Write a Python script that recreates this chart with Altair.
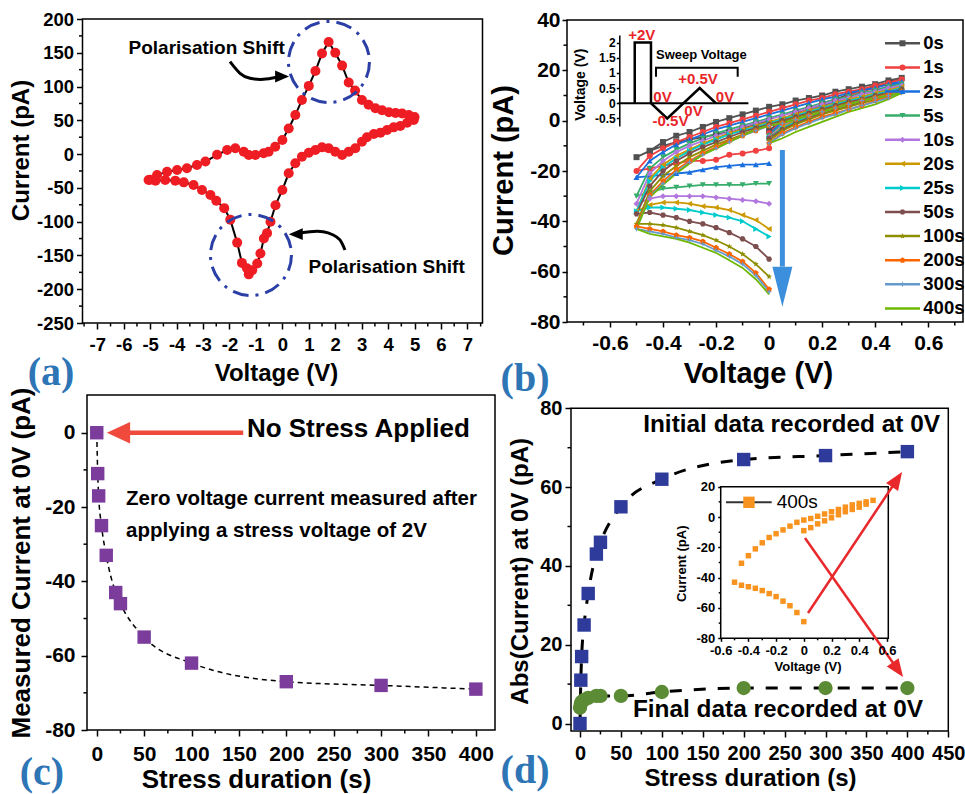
import math
import altair as alt
import pandas as pd

W, H = 965, 794
SANS = "Liberation Sans"
SERIF = "Liberation Serif"
BLACK = "black"

# ---------------------------------------------------------------------------
# (a) cyclic I-V loop: forward sweep -5 V -> +5 V, reverse sweep +5 V -> -5 V
# ---------------------------------------------------------------------------
loop_fwd_v = [-5.0, -4.74, -4.36, -3.98, -3.61, -3.23, -2.91, -2.47, -2.09, -1.78,
              -1.46, -1.27, -1.02, -0.71, -0.52, -0.27, 0.0, 0.24, 0.49, 0.74,
              1.0, 1.25, 1.5, 1.75, 2.0, 2.26, 2.51, 2.75, 3.01, 3.26,
              3.52, 3.77, 4.03, 4.28, 4.53, 4.78, 5.0]
loop_fwd_i = [-38, -31, -26, -23.5, -21, -16, -11, -1, 6, 8.6,
              3.6, -1.3, -1.3, 1.2, 3.6, 11, 21, 38, 58, 80,
              101, 123, 149, 166, 150, 131, 106, 94, 80, 73,
              68, 65, 62, 61, 60, 58, 55]
loop_rev_v = [4.97, 4.72, 4.46, 4.21, 3.96, 3.71, 3.46, 3.2, 3.01, 2.76,
              2.51, 2.26, 2.0, 1.75, 1.5, 1.25, 1.0, 0.74, 0.49, 0.24,
              0.0, -0.26, -0.45, -0.58, -0.7, -0.83, -0.95, -1.14, -1.27, -1.34,
              -1.53, -1.71, -1.97, -2.2, -2.5, -2.72, -3.04, -3.36, -3.73, -4.05,
              -4.43, -4.8, -5.06]
loop_rev_i = [50.5, 46.5, 41.6, 39.6, 35.7, 31.8, 29.8, 25, 18.4, 8.6,
              3.6, -1.3, 3.6, 8.6, 10, 6, 2, -4, -13.6, -28.4,
              -53, -75.6, -100, -117, -125, -147, -162, -172, -178, -169,
              -161, -131, -97, -80, -69, -60.5, -53, -45.7, -41.8, -39.3,
              -38.3, -39.3, -38.3]

# ---------------------------------------------------------------------------
# (b) sweeps 0 -> -0.5 -> 0 -> +0.5 -> 0 V after each stress duration
# ---------------------------------------------------------------------------
durations = ["0s", "1s", "2s", "5s", "10s", "20s", "25s", "50s", "100s", "200s", "300s", "400s"]
series_colors = ["#515151", "#F14040", "#1A6FDF", "#37AD6B", "#B177DE", "#CC9900",
                 "#00CBCC", "#7D4E4E", "#8E8E00", "#FB6501", "#6699CC", "#6FB802"]

v_neg = [0.0, -0.05, -0.1, -0.15, -0.2, -0.25, -0.3, -0.35, -0.4, -0.45, -0.5]
v_ret = [-0.45, -0.4, -0.35, -0.3, -0.25, -0.2, -0.15, -0.1, -0.05, 0.0]
v_pos = [0.05, 0.1, 0.15, 0.2, 0.25, 0.3, 0.35, 0.4, 0.45, 0.5]
v_back = [0.45, 0.4, 0.35, 0.3, 0.25, 0.2, 0.15, 0.1, 0.05, 0.0]

i_neg = {
    "0s": [0, -1.5, -3, -4.5, -5.5, -6.5, -7.5, -8.5, -10, -12, -14.5],
    "1s": [-11, -12, -13, -13.5, -15.5, -16, -16, -17, -18, -19, -20],
    "2s": [-17, -17.5, -17.5, -18, -18.5, -19.5, -20.5, -21, -21.5, -22, -22.5],
    "5s": [-25, -25, -25.5, -25.5, -25.5, -25.5, -26, -26.5, -27, -28.5, -30],
    "10s": [-33, -32, -31.5, -31, -30.5, -30, -30, -30, -30, -31, -33],
    "20s": [-43, -39.5, -37.5, -35.5, -34.5, -34, -33, -32.5, -32.5, -33.5, -36],
    "25s": [-46, -43, -40, -38.5, -37.5, -36.5, -35.5, -35, -34.5, -34.5, -36],
    "50s": [-55, -50, -47, -44.5, -42.5, -41, -40, -38.5, -37.5, -36.5, -37],
    "100s": [-62, -57, -53, -50, -47.5, -45.5, -44, -42.5, -41.5, -41, -41],
    "200s": [-67, -60.5, -56, -53, -50.5, -48, -46.5, -45.5, -44, -43, -42],
    "300s": [-68, -61.5, -57, -54, -51.5, -49, -47.5, -46.5, -45, -44, -43],
    "400s": [-69, -63, -58.5, -55.5, -52.5, -50.5, -48.5, -47, -46, -45, -43],
}
i_ret = {
    "0s": [-12, -8.5, -6, -4.5, -2.5, -0.5, 1, 2.5, 4, 5.5],
    "1s": [-14, -11, -8.5, -6.5, -4.5, -2.5, -1, 0.5, 2, 3.5],
    "2s": [-16, -12.5, -9.5, -7.5, -5.5, -3.5, -2, -0.5, 1, 2.5],
    "5s": [-19, -14.5, -11.5, -9, -7, -5, -3.5, -2, -0.5, 1],
    "10s": [-21, -16, -12.5, -10, -8, -6, -4.5, -2.5, -1, 0.5],
    "20s": [-23, -17.5, -14, -11.5, -9, -7, -5, -3.5, -2, -0.5],
    "25s": [-24, -18.5, -15, -12, -9.5, -7.5, -5.5, -4, -2.5, -1],
    "50s": [-26, -20, -16, -13, -10.5, -8.5, -6.5, -4.5, -3, -1.5],
    "100s": [-28, -22, -18, -14.5, -12, -9.5, -7.5, -5.5, -3.5, -2],
    "200s": [-29.5, -24, -19.5, -16, -13, -10.5, -8, -6, -4, -2],
    "300s": [-30, -25, -20.5, -16.5, -13.5, -11, -8.5, -6, -4, -2],
    "400s": [-30.5, -25.5, -21, -17, -13.5, -11, -8.5, -6, -3.5, -2],
}
i_pos = {
    "0s": [6.5, 8, 9, 10, 11.5, 12.5, 13.5, 14.5, 16, 17],
    "1s": [5, 6.5, 8, 9, 10.5, 11.5, 12.5, 14, 15, 16.5],
    "2s": [4, 5.5, 7, 8.5, 9.5, 11, 12, 13, 14.5, 15.5],
    "5s": [2.5, 4, 5.5, 7, 8.5, 9.5, 11, 12, 13.5, 14.5],
    "10s": [2, 3.5, 5, 6.5, 8, 9, 10.5, 11.5, 13, 14],
    "20s": [1, 2.5, 4, 5.5, 7, 8.5, 9.5, 11, 12, 13.5],
    "25s": [0.5, 2, 3.5, 5, 6.5, 8, 9, 10.5, 11.5, 13],
    "50s": [0, 1.5, 3, 4.5, 6, 7.5, 8.5, 10, 11, 12.5],
    "100s": [-0.5, 1, 2.5, 4, 5.5, 7, 8, 9.5, 10.5, 12],
    "200s": [-1, 0.5, 2, 3.5, 5, 6.5, 8, 9, 10.5, 11.5],
    "300s": [-1, 0.5, 2, 3.5, 5, 6.5, 8, 9, 10, 11],
    "400s": [-1, 0.5, 2, 3.5, 5, 6.5, 8, 9, 10, 11],
}
i_back = {
    "0s": [15, 13.5, 12, 10.5, 8.5, 7, 5, 3, 0.5, -4],
    "1s": [14.5, 13, 11.5, 10, 8, 6.5, 4.5, 2.5, 0, -5],
    "2s": [13.5, 12, 10.5, 9, 7.5, 6, 4, 2, -0.5, -5.5],
    "5s": [12.5, 11, 9.5, 8, 6.5, 5, 3, 1, -1.5, -6],
    "10s": [12, 10.5, 9, 7.5, 6, 4.5, 2.5, 0.5, -2, -6.5],
    "20s": [11.5, 10, 8.5, 7, 5.5, 4, 2, 0, -2.5, -7],
    "25s": [11, 9.5, 8, 6.5, 5, 3.5, 1.5, -0.5, -3, -7],
    "50s": [10.5, 9, 7.5, 6, 4.5, 3, 1, -1, -3.5, -7],
    "100s": [10, 8.5, 7, 5.5, 4, 2.5, 0.5, -1.5, -4, -8],
    "200s": [9.5, 8, 6, 4.5, 3, 1.5, -0.5, -2.5, -5, -9],
    "300s": [9, 7.5, 6, 4.5, 2.5, 1, -1, -3, -5.5, -9],
    "400s": [8.5, 6.5, 5, 3.5, 1.5, -0.5, -2.5, -4.5, -7, -9],
}

# stress pulse followed by the read sweep (inset of b)
pulse_t = [1, 1, 2, 2, 3, 4, 5, 6]
pulse_v = [0, 2, 2, 0, -0.5, 0, 0.5, 0]

# ---------------------------------------------------------------------------
# (c), (d) zero-bias current versus stress duration
# ---------------------------------------------------------------------------
stress_s = [0, 1, 2, 5, 10, 20, 25, 50, 100, 200, 300, 400]
i_zero_bias = [0, -11, -17, -25, -33, -43, -46, -55, -62, -67, -68, -69]
abs_initial = [0, 11, 17, 25, 33, 43, 46, 55, 62, 67, 68, 69]
abs_final = [4, 5, 5.5, 6, 6.5, 7, 7, 7, 8, 9, 9, 9]

MINUS_FIX = "replace(datum.label, '\u2212', '-')"


# ---------------------------------------------------------------------------
# helpers
# ---------------------------------------------------------------------------
def lin(domain, rng):
    return alt.Scale(domain=domain, range=rng, nice=False, zero=False)


def axis(orient, offset, values, lsize, tsize, title, tx, ty, tick=6, pad=3,
         fmt="d", domain=False):
    return alt.Axis(
        orient=orient, offset=offset, values=values, format=fmt, labelExpr=MINUS_FIX,
        labelFont=SANS, labelFontSize=lsize, labelFontWeight="bold", labelColor=BLACK,
        labelPadding=pad, labelOverlap=False, labelFlush=False,
        title=title, titleFont=SANS, titleFontSize=tsize, titleFontWeight="bold",
        titleColor=BLACK, titleX=tx, titleY=ty, titleBaseline="middle",
        tickSize=tick, tickWidth=1.5, tickColor=BLACK,
        domain=domain, domainColor=BLACK, domainWidth=1.5, grid=False, zindex=1)


def frame(x0, x1, y0, y1):
    return alt.Chart(pd.DataFrame({"f": [0]})).mark_rect(
        fill="white", fillOpacity=0, stroke=BLACK, strokeWidth=1.5
    ).encode(x=alt.value(x0), x2=alt.value(x1), y=alt.value(y0), y2=alt.value(y1))


def minor_x(vals, xs, ybase, length=3.5):
    return alt.Chart(pd.DataFrame({"v": vals})).mark_rule(color=BLACK, strokeWidth=1.5).encode(
        x=alt.X("v:Q", scale=xs, axis=None), y=alt.value(ybase), y2=alt.value(ybase + length))


def minor_y(vals, ys, xbase, length=3.5):
    return alt.Chart(pd.DataFrame({"v": vals})).mark_rule(color=BLACK, strokeWidth=1.5).encode(
        y=alt.Y("v:Q", scale=ys, axis=None), x=alt.value(xbase), x2=alt.value(xbase - length))


def notes(xs, ys, x, y, t, size, color=BLACK, align="center", weight="bold"):
    df = pd.DataFrame({"x": x, "y": y, "t": t})
    return alt.Chart(df).mark_text(
        font=SANS, fontSize=size, fontWeight=weight, color=color, align=align, baseline="middle"
    ).encode(x=alt.X("x:Q", scale=xs, axis=None), y=alt.Y("y:Q", scale=ys, axis=None), text="t:N")


def tag(txt, cx, cy):
    return alt.Chart(pd.DataFrame({"t": [txt]})).mark_text(
        font=SERIF, fontWeight="bold", fontSize=40, color="#2e75b6", align="center", baseline="middle"
    ).encode(text="t:N", x=alt.value(cx), y=alt.value(cy))


def head(xs, ys, x, y, path, size, color, angle=None):
    df = pd.DataFrame({"x": x, "y": y})
    enc = dict(x=alt.X("x:Q", scale=xs, axis=None), y=alt.Y("y:Q", scale=ys, axis=None))
    if angle is not None:
        df["a"] = angle
        enc["angle"] = alt.Angle("a:Q", scale=None)
    return alt.Chart(df).mark_point(shape=path, filled=True, size=size, color=color, opacity=1,
                                    strokeWidth=0).encode(**enc)


def polygon_path(n, r_in=None, start=-90.0):
    m = 2 * n if r_in else n
    pts = []
    for k in range(m):
        ang = math.radians(start + 360.0 * k / m)
        r = 1.0 if (r_in is None or k % 2 == 0) else r_in
        pts.append(f"{r * math.cos(ang):.3f},{r * math.sin(ang):.3f}")
    return "M" + "L".join(pts) + "Z"


TRI_RIGHT = "M1,0L-1,-0.85L-1,0.85Z"
TRI_LEFT = "M-1,0L1,-0.85L1,0.85Z"
TRI_LEFT_WIDE = "M-1,0L1,-0.93L1,0.93Z"
TRI_DOWN_TALL = "M-0.5,-1L0.5,-1L0,1Z"
TRI_UP = "M0,-1L0.8,1L-0.8,1Z"
series_shapes = ["square", "circle", "triangle-up", "triangle-down", "diamond",
                 "triangle-left", "triangle-right", polygon_path(6, start=0.0),
                 polygon_path(5, r_in=0.45), polygon_path(5), polygon_path(4, r_in=0.35),
                 "circle"]

layers = []

# ---------------------------------------------------------------------------
# panel (a)
# ---------------------------------------------------------------------------
A_X = lin([-7.56, 7.57], [82.5, 482.5])
A_Y = lin([-250, 200], [323, 19])
a_df = pd.DataFrame({"V": loop_fwd_v + loop_rev_v, "I": loop_fwd_i + loop_rev_i})
a_df["k"] = range(len(a_df))

a_line = alt.Chart(a_df).mark_line(color=BLACK, strokeWidth=2).encode(
    x=alt.X("V:Q", scale=A_X,
            axis=axis("bottom", 323 - H, list(range(-7, 8)), 18.5, 24, "Voltage (V)", 276, 50.6, pad=6)),
    y=alt.Y("I:Q", scale=A_Y,
            axis=axis("left", -82.5, list(range(-250, 201, 50)), 18.5, 24, "Current (pA)", -60.6, 150)),
    order="k:Q")
a_dots = alt.Chart(a_df).mark_circle(color="#ee1d23", size=100, opacity=1).encode(
    x=alt.X("V:Q", scale=A_X, axis=None), y=alt.Y("I:Q", scale=A_Y, axis=None))

ring_v = [1.763, -1.187]
ring_i = [136.4, -149.3]
a_rings = alt.Chart(pd.DataFrame({"V": ring_v, "I": ring_i})).mark_point(
    shape="circle", size=6561, filled=False, color="#2b3fa6", strokeWidth=3,
    strokeDash=[16, 7, 3, 7], opacity=1
).encode(x=alt.X("V:Q", scale=A_X, axis=None), y=alt.Y("I:Q", scale=A_Y, axis=None))

curve_v = [-1.981, -1.603, -1.224, -0.721, -0.214, 2.368, 2.179, 1.926, 1.547, 1.044, 0.666]
curve_i = [136.8, 119.6, 112.2, 110.7, 113.7, -141.9, -127.1, -119.7, -114.8, -114.8, -116.8]
curve_g = [0] * 5 + [1] * 6
a_curves = alt.Chart(pd.DataFrame({"V": curve_v, "I": curve_i, "g": curve_g,
                                   "k": list(range(5)) + list(range(6))})).mark_line(
    color=BLACK, strokeWidth=3, interpolate="natural"
).encode(x=alt.X("V:Q", scale=A_X, axis=None), y=alt.Y("I:Q", scale=A_Y, axis=None),
         detail="g:N", order="k:Q")

layers += [
    frame(82.5, 482.5, 19, 323),
    minor_x([x + 0.5 for x in range(-8, 8)], A_X, 323),
    minor_y(list(range(-225, 200, 50)), A_Y, 82.5),
    a_line, a_dots, a_rings, a_curves,
    head(A_X, A_Y, [-0.01], [114.9], TRI_RIGHT, 196, BLACK),
    head(A_X, A_Y, [0.507], [-118.5], TRI_LEFT, 196, BLACK),
    notes(A_X, A_Y, [-2.863, 3.945], [156.6, -166.8], ["Polarisation Shift"] * 2, 19),
    tag("(a)", 51, 373),
]

# ---------------------------------------------------------------------------
# panel (b)
# ---------------------------------------------------------------------------
rows = []
for s in durations:
    k = 0
    for seg_v, seg_i in ((v_neg, i_neg[s]), (v_ret, i_ret[s]), (v_pos, i_pos[s]), (v_back, i_back[s])):
        for v, i in zip(seg_v, seg_i):
            rows.append({"series": s, "V": v, "I": i, "k": k})
            k += 1
b_df = pd.DataFrame(rows)

B_X = lin([-0.762, 0.731], [567, 963])
B_Y = lin([-80, 40], [322, 20])
b_color = alt.Scale(domain=durations, range=series_colors)
b_shape = alt.Scale(domain=durations, range=series_shapes)

b_lines = alt.Chart(b_df).mark_line(strokeWidth=1.8).encode(
    x=alt.X("V:Q", scale=B_X,
            axis=axis("bottom", 322 - H, [-0.6, -0.4, -0.2, 0, 0.2, 0.4, 0.6], 21, 29,
                      "Voltage (V)", 758, 51.7, tick=5, pad=5, fmt=".1~f")),
    y=alt.Y("I:Q", scale=B_Y,
            axis=axis("left", -567, list(range(-80, 41, 20)), 21, 29, "Current (pA)",
                      -63.3, 170, tick=5, pad=2)),
    color=alt.Color("series:N", scale=b_color, legend=None),
    detail="series:N", order="k:Q")
b_marks = alt.Chart(b_df[b_df.series != "400s"]).mark_point(filled=True, size=36, opacity=1).encode(
    x=alt.X("V:Q", scale=B_X, axis=None), y=alt.Y("I:Q", scale=B_Y, axis=None),
    color=alt.Color("series:N", scale=b_color, legend=None),
    shape=alt.Shape("series:N", scale=b_shape, legend=None))

# legend rows, stacked down the right side of the panel
leg_df = pd.DataFrame({"series": durations, "ly": [43.3 + 24.1 * n for n in range(len(durations))]})
leg_rule = alt.Chart(leg_df).mark_rule(strokeWidth=2.5).encode(
    x=alt.value(885), x2=alt.value(920), y=alt.Y("ly:Q", scale=None, axis=None),
    color=alt.Color("series:N", scale=b_color, legend=None))
leg_mark = alt.Chart(leg_df[leg_df.series != "400s"]).mark_point(filled=True, size=36, opacity=1).encode(
    x=alt.value(902.5), y=alt.Y("ly:Q", scale=None, axis=None),
    color=alt.Color("series:N", scale=b_color, legend=None),
    shape=alt.Shape("series:N", scale=b_shape, legend=None))
leg_text = alt.Chart(leg_df).mark_text(font=SANS, fontWeight="bold", fontSize=18.5, align="left",
                                       baseline="middle", color=BLACK).encode(
    x=alt.value(923.3), y=alt.Y("ly:Q", scale=None, axis=None), text="series:N")

b_shaft = alt.Chart(pd.DataFrame({"x": [0.05], "y": [-11.65], "y2": [-58.0]})).mark_rule(
    color="#3c8fdc", strokeWidth=5).encode(
    x=alt.X("x:Q", scale=B_X, axis=None), y=alt.Y("y:Q", scale=B_Y, axis=None), y2="y2:Q")

layers += [
    frame(567, 963, 20, 322),
    minor_x([-0.7, -0.5, -0.3, -0.1, 0.1, 0.3, 0.5, 0.7], B_X, 322),
    minor_y([-70, -50, -30, -10, 10, 30], B_Y, 567),
    b_lines, b_marks, b_shaft,
    head(B_X, B_Y, [0.05], [-66.0], TRI_DOWN_TALL, 1600, "#3c8fdc"),
    leg_rule, leg_mark, leg_text,
    tag("(b)", 525, 379),
]

# inset of (b): the stress / sweep program
S_X = lin([0, 8], [618.5, 748.4])
S_Y = lin([-0.75, 2.25], [126, 35])
s_wave = alt.Chart(pd.DataFrame({"t": pulse_t, "v": pulse_v, "k": range(len(pulse_t))})).mark_line(
    color=BLACK, strokeWidth=2.5).encode(
    x=alt.X("t:Q", scale=S_X, axis=None),
    y=alt.Y("v:Q", scale=S_Y,
            axis=axis("left", -619.3, [-0.5, 0, 0.5, 1, 1.5, 2], 12, 14, "Voltage (V)", -39.3, 84.2,
                      tick=3, pad=1, fmt=".1~f", domain=True)),
    order="k:Q")
s_base = alt.Chart(pd.DataFrame({"t": [0, 8], "v": [0, 0]})).mark_line(color=BLACK, strokeWidth=2).encode(
    x=alt.X("t:Q", scale=S_X, axis=None), y=alt.Y("v:Q", scale=S_Y, axis=None))
s_bracket = alt.Chart(pd.DataFrame({"t": [2.31, 2.31, 7.34, 7.34], "v": [0.875, 1.172, 1.172, 0.875],
                                    "k": [0, 1, 2, 3]})).mark_line(color=BLACK, strokeWidth=2).encode(
    x=alt.X("t:Q", scale=S_X, axis=None), y=alt.Y("v:Q", scale=S_Y, axis=None), order="k:Q")

layers += [
    s_base, s_wave, s_bracket,
    notes(S_X, S_Y, [1.43, 2.71, 4.62, 6.56, 4.9, 3.2], [2.24, 0.19, -0.26, 0.19, 0.8, -0.6],
          ["+2V", "0V", "0V", "0V", "+0.5V", "-0.5V"], 15, color="#e8262a"),
    notes(S_X, S_Y, [2.31], [1.592], ["Sweep Voltage"], 13, align="left"),
]

# ---------------------------------------------------------------------------
# panel (c)
# ---------------------------------------------------------------------------
C_X = lin([-10.3, 420.2], [87, 495])
C_Y = lin([-80, 10.15], [730, 395])
c_df = pd.DataFrame({"s": stress_s, "i": i_zero_bias})
c_fit = alt.Chart(c_df).mark_line(color=BLACK, strokeWidth=1.5, strokeDash=[5, 4],
                                  interpolate="monotone").encode(
    x=alt.X("s:Q", scale=C_X,
            axis=axis("bottom", 730 - H, list(range(0, 401, 50)), 21, 26, "Stress duration (s)",
                      256, 49.5, pad=7)),
    y=alt.Y("i:Q", scale=C_Y,
            axis=axis("left", -87, list(range(-80, 1, 20)), 21, 26, "Measured Current at 0V (pA)",
                      -66, 562.5, pad=6)))
c_pts = alt.Chart(c_df).mark_square(size=180, color="#7b3c9c", opacity=1).encode(
    x=alt.X("s:Q", scale=C_X, axis=None), y=alt.Y("i:Q", scale=C_Y, axis=None))
c_shaft = alt.Chart(pd.DataFrame({"x": [22.9], "x2": [154.5], "y": [0]})).mark_rule(
    color="#ef4a3c", strokeWidth=4.5).encode(
    x=alt.X("x:Q", scale=C_X, axis=None), x2="x2:Q", y=alt.Y("y:Q", scale=C_Y, axis=None))

layers += [
    frame(87, 495, 395, 730),
    minor_x(list(range(25, 400, 50)), C_X, 730),
    minor_y([-70, -50, -30, -10], C_Y, 87),
    c_fit, c_pts, c_shaft,
    head(C_X, C_Y, [22.9], [0], TRI_LEFT_WIDE, 543, "#ef4a3c"),
    notes(C_X, C_Y, [158.4], [0.89], ["No Stress Applied"], 26, align="left"),
    notes(C_X, C_Y, [30.9, 30.9], [-17.84, -26.34],
          ["Zero voltage current measured after", "applying a stress voltage of 2V"], 20.5, align="left"),
    tag("(c)", 42, 773),
]

# ---------------------------------------------------------------------------
# panel (d) and its inset
# ---------------------------------------------------------------------------
D_X0, D_X1, D_Y0, D_Y1 = 571, 948.3, 408.3, 731
D_DX, D_DY = [-11, 450], [-1.9, 80]
D_X = lin(D_DX, [D_X0, D_X1])
D_Y = lin(D_DY, [D_Y1, D_Y0])
d_df = pd.DataFrame({"s": stress_s, "ini": abs_initial, "fin": abs_final})

d_fit_ini = alt.Chart(d_df).mark_line(color=BLACK, strokeWidth=3, strokeDash=[12, 12],
                                      interpolate="monotone").encode(
    x=alt.X("s:Q", scale=D_X,
            axis=axis("bottom", D_Y1 - H, list(range(0, 451, 50)), 20, 24, "Stress duration (s)",
                      750, 47.5, pad=6)),
    y=alt.Y("ini:Q", scale=D_Y,
            axis=axis("left", -D_X0, list(range(0, 81, 20)), 20, 24, "Abs(Current) at 0V (pA)",
                      -50.7, 570.8, pad=3)))
d_fit_fin = alt.Chart(d_df).mark_line(color=BLACK, strokeWidth=3, strokeDash=[12, 12],
                                      interpolate="monotone").encode(
    x=alt.X("s:Q", scale=D_X, axis=None), y=alt.Y("fin:Q", scale=D_Y, axis=None))
d_sq = alt.Chart(d_df).mark_square(size=180, color="#2e3b9a", opacity=1).encode(
    x=alt.X("s:Q", scale=D_X, axis=None), y=alt.Y("ini:Q", scale=D_Y, axis=None))
d_ci = alt.Chart(d_df).mark_circle(size=205, color="#5c8b35", opacity=1).encode(
    x=alt.X("s:Q", scale=D_X, axis=None), y=alt.Y("fin:Q", scale=D_Y, axis=None))

E_X = lin([-0.6, 0.61], [720.7, 888.3])
E_Y = lin([-80, 20], [638.3, 486.7])
e_df = b_df[b_df.series == "400s"]
e_pts = alt.Chart(e_df).mark_square(size=30, color="#f7931e", opacity=1).encode(
    x=alt.X("V:Q", scale=E_X,
            axis=axis("bottom", 638.3 - H, [-0.6, -0.4, -0.2, 0, 0.2, 0.4, 0.6], 13, 13, "Voltage (V)",
                      807.5, 28.1, tick=3, pad=3, fmt=".1~f")),
    y=alt.Y("I:Q", scale=E_Y,
            axis=axis("left", -720.7, list(range(-80, 21, 20)), 13, 13, "Current (pA)",
                      -39.3, 563.3, tick=3, pad=3)))
e_leg_line = alt.Chart(pd.DataFrame({"x": [-0.562, -0.232], "y": [9.7, 9.7]})).mark_line(
    color="#333333", strokeWidth=2).encode(
    x=alt.X("x:Q", scale=E_X, axis=None), y=alt.Y("y:Q", scale=E_Y, axis=None))
e_leg_sq = alt.Chart(pd.DataFrame({"x": [-0.396], "y": [9.7]})).mark_square(
    size=130, color="#f7931e", opacity=1).encode(
    x=alt.X("x:Q", scale=E_X, axis=None), y=alt.Y("y:Q", scale=E_Y, axis=None))

# red arrows from the inset to the 400 s points
arrow_from_x = [278.6, 274.9]
arrow_from_y = [28.05, 47.08]
arrow_to_x = [393.5, 394.7]
arrow_to_y = [63.84, 11.8]
kx = (D_X1 - D_X0) / (D_DX[1] - D_DX[0])
ky = (D_Y1 - D_Y0) / (D_DY[1] - D_DY[0])
head_r = 9.0
hx, hy, ang = [], [], []
for sx, sy, tx, ty in zip(arrow_from_x, arrow_from_y, arrow_to_x, arrow_to_y):
    dx, dy = (tx - sx) * kx, -(ty - sy) * ky
    L = math.hypot(dx, dy)
    ux, uy = dx / L, dy / L
    hx.append(tx - head_r * ux / kx)
    hy.append(ty + head_r * uy / ky)
    ang.append(math.degrees(math.atan2(dx, -dy)) % 360)
d_arrows = alt.Chart(pd.DataFrame({"x": arrow_from_x, "y": arrow_from_y, "x2": hx, "y2": hy})).mark_rule(
    color="#e8282b", strokeWidth=2.5).encode(
    x=alt.X("x:Q", scale=D_X, axis=None), y=alt.Y("y:Q", scale=D_Y, axis=None), x2="x2:Q", y2="y2:Q")

layers += [
    frame(D_X0, D_X1, D_Y0, D_Y1),
    minor_x(list(range(25, 450, 50)), D_X, D_Y1),
    minor_y([10, 30, 50, 70], D_Y, D_X0),
    frame(720.7, 888.3, 486.7, 638.3),
    minor_x([-0.5, -0.3, -0.1, 0.1, 0.3, 0.5], E_X, 638.3, 2),
    minor_y([-70, -50, -30, -10, 10], E_Y, 720.7, 2),
    e_pts, e_leg_line, e_leg_sq,
    notes(E_X, E_Y, [-0.196], [9.7], ["400s"], 19, align="left", weight="normal"),
    d_fit_ini, d_fit_fin, d_sq, d_ci,
    notes(D_X, D_Y, [439.9], [75.76], ["Initial data recorded at 0V"], 24.4, align="right"),
    notes(D_X, D_Y, [419.1], [3.43], ["Final data recorded at 0V"], 24.4, align="right"),
    d_arrows,
    head(D_X, D_Y, hx, hy, TRI_UP, 324, "#e8282b", angle=ang),
    tag("(d)", 525, 771),
]

chart = alt.layer(*layers).resolve_scale(
    x="independent", y="independent", color="independent", shape="independent"
).properties(
    width=W, height=H, padding=0, autosize=alt.AutoSizeParams(type="none")
).configure_view(stroke=None)

chart.save("out.html", embed_options={"renderer": "svg", "actions": False})
